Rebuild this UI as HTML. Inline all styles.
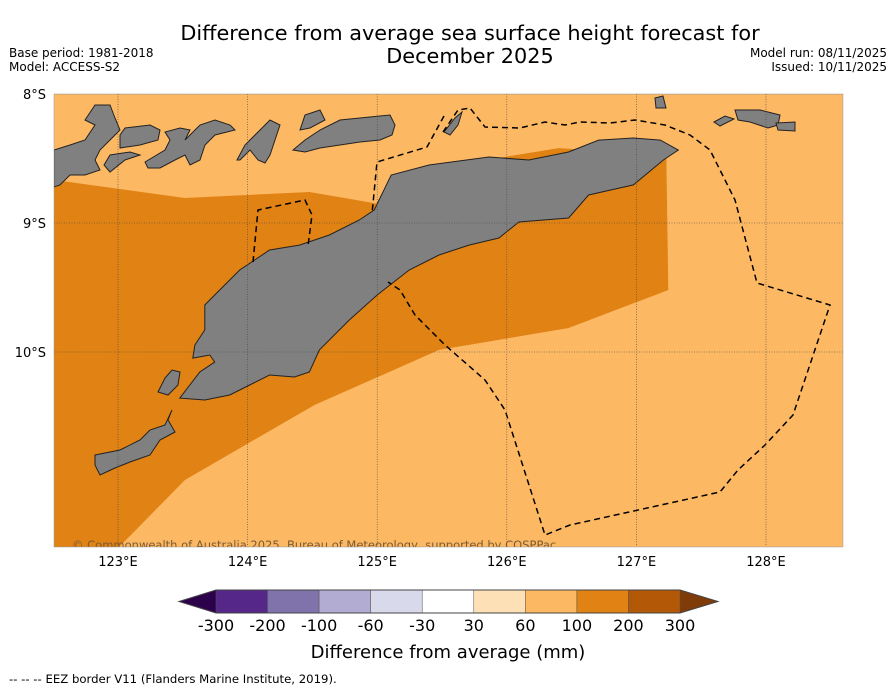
<!DOCTYPE html>
<html><head><meta charset="utf-8"><style>
body{margin:0;background:#fff;font-family:"DejaVu Sans","Liberation Sans",sans-serif}
svg{display:block}
</style></head><body>
<svg id="c" width="896" height="690" viewBox="0 0 896 690">
<text x="470" y="40" font-size="20.8" text-anchor="middle">Difference from average sea surface height forecast for</text>
<text x="470" y="63" font-size="20.8" text-anchor="middle">December 2025</text>
<text x="9" y="57" font-size="12">Base period: 1981-2018</text>
<text x="9" y="71" font-size="12">Model: ACCESS-S2</text>
<text x="887" y="57" font-size="12" text-anchor="end">Model run: 08/11/2025</text>
<text x="887" y="71" font-size="12" text-anchor="end">Issued: 10/11/2025</text>
<defs><clipPath id="mc"><rect x="54" y="94" width="789" height="453"/></clipPath></defs>
<g id="map" clip-path="url(#mc)">
<rect x="54" y="94" width="789" height="453" fill="#fdb863"/>
</g>
<g id="cb"></g>
<text x="448" y="658" font-size="18" text-anchor="middle">Difference from average (mm)</text>
<text x="9" y="683" font-size="11.7">--  --  -- EEZ border V11 (Flanders Marine Institute, 2019).</text>
</svg>
<script>
const lonTicks=[123,124,125,126,127,128];
const latTicks=[-8,-9,-10];
const cbBounds=[-300,-200,-100,-60,-30,30,60,100,200,300];
const cbColors=['#542788','#8073ac','#b2abd2','#d8daeb','#ffffff','#fee0b6','#fdb863','#e08214','#b35806'];
const darkRegion=[[122.508,-8.667],[123.516,-8.806],[124.477,-8.760],[125.016,-8.853],[125.131,-8.628],[126.4,-8.419],[127.231,-8.473],[127.246,-9.519],[126.477,-9.814],[125.477,-9.984],[124.516,-10.411],[123.516,-10.992],[123.0,-11.52],[122.4,-11.52]];
const timor=[[123.577,-10.047],[123.593,-9.946],[123.670,-9.829],[123.670,-9.636],[123.746,-9.558],[123.939,-9.364],[124.170,-9.209],[124.400,-9.171],[124.631,-9.093],[124.862,-8.977],[124.977,-8.899],[125.108,-8.628],[125.400,-8.550],[125.862,-8.488],[126.170,-8.512],[126.477,-8.450],[126.708,-8.357],[126.977,-8.341],[127.185,-8.357],[127.323,-8.434],[127.208,-8.512],[126.977,-8.705],[126.631,-8.783],[126.477,-8.961],[126.093,-8.992],[125.939,-9.116],[125.708,-9.171],[125.477,-9.248],[125.247,-9.364],[125.0,-9.558],[124.785,-9.752],[124.554,-9.984],[124.477,-10.155],[124.362,-10.194],[124.170,-10.178],[124.016,-10.256],[123.862,-10.333],[123.670,-10.372],[123.477,-10.357],[123.554,-10.256],[123.631,-10.155],[123.746,-10.078],[123.708,-10.023]];
const X=lon=>118+(lon-123)*129.6;
const Y=lat=>94+(-8-lat)*129;
const NS='http://www.w3.org/2000/svg';
function mk(tag,attrs,parent){const e=document.createElementNS(NS,tag);for(const k in attrs)e.setAttribute(k,attrs[k]);parent.appendChild(e);return e;}
const map=document.getElementById('map');
const svg=document.getElementById('c');
const pts=a=>a.map(p=>X(p[0]).toFixed(1)+','+Y(p[1]).toFixed(1)).join(' ');
let d=mk('polygon',{points:pts(darkRegion),fill:'#e08214'},map);


const islands=["54,150 70,145 85,140 95,125 85,120 95,105 110,105 115,118 120,130 110,140 100,150 95,160 100,170 85,175 70,175 60,185 54,187",
"120,135 125,128 150,125 160,130 158,140 140,145 120,148",
"104,165 110,155 130,152 140,155 125,160 110,172",
"145,162 165,150 170,140 165,132 180,128 190,130 185,140 200,125 215,120 230,125 235,130 215,135 205,145 200,160 190,165 185,155 175,160 160,168 148,168",
"237,160 245,145 250,140 260,130 270,120 280,125 275,140 270,155 265,163 258,160 250,150 240,160",
"293,150 305,140 320,130 340,120 370,117 390,115 395,125 392,135 380,140 360,142 340,145 320,148 305,152",
"300,130 305,115 320,110 325,120 310,128",
"95,455 120,450 140,440 150,430 165,425 172,410 168,420 175,432 160,440 150,455 130,462 115,468 100,475 95,465",
"158,392 165,378 172,370 180,372 178,385 168,395",
"735,110 760,110 780,115 778,125 768,128 750,122 738,120",
"776,123 795,122 795,131 778,130","714,122 725,116 734,119 720,126","655,98 663,96 666,108 656,108",
"444,132 455,118 462,112 458,125 450,135"];
islands.forEach(p=>{const e=mk('polygon',{points:p,fill:'#808080',stroke:'#222','stroke-width':1},map);

});
let t=mk('polygon',{points:pts(timor),fill:'#808080',stroke:'#222','stroke-width':1},map);


const eez=["444,116 427,147 377,162 372,214","253,262 258,210 305,200 312,215 308,246",
"443,132 458,110 470,108 485,127 520,128 545,122 565,125 580,122 610,123 635,120 665,125 690,135 710,150 735,200 757,283 830,305 793,415 765,445 738,470 720,492 570,525 545,535 505,410 485,380 445,345 415,315 400,290 388,282"];
eez.forEach(p=>{const e=mk('polyline',{points:p,fill:'none',stroke:'#000','stroke-width':1.5,'stroke-dasharray':'6,4'},map);

});
lonTicks.forEach(l=>{const x=X(l);
const g=mk('line',{x1:x,x2:x,y1:94,y2:547,stroke:'#444','stroke-width':0.6,'stroke-dasharray':'1,1.5'},map);


const tx=mk('text',{x:x,y:566,'font-size':13,'text-anchor':'middle'},svg);tx.textContent=l+'°E';

});
latTicks.forEach(l=>{const y=Y(l);
const g=mk('line',{x1:54,x2:843,y1:y,y2:y,stroke:'#444','stroke-width':0.6,'stroke-dasharray':'1,1.5'},map);


const tx=mk('text',{x:46,y:y+5,'font-size':13,'text-anchor':'end'},svg);tx.textContent=(-l)+'°S';

});
const cr=mk('text',{x:72,y:549,'font-size':11.5,fill:'#7a5a30'},map);cr.textContent='© Commonwealth of Australia 2025, Bureau of Meteorology, supported by COSPPac';


const cb=document.getElementById('cb');
const cx0=216,cw=(680-216)/cbColors.length,cy=590,ch=23;
let l=mk('polygon',{points:`${cx0},${cy} ${cx0},${cy+ch} 179,${cy+ch/2}`,fill:'#2d004b'},cb);


let r=mk('polygon',{points:`680,${cy} 680,${cy+ch} 718,${cy+ch/2}`,fill:'#7f3b08'},cb);


cbColors.forEach((c,i)=>{const e=mk('rect',{x:cx0+i*cw,y:cy,width:cw,height:ch,fill:c,stroke:'#555','stroke-width':0.5},cb);

});
mk('polygon',{points:`179,${cy+ch/2} ${cx0},${cy} 680,${cy} 718,${cy+ch/2} 680,${cy+ch} ${cx0},${cy+ch}`,fill:'none',stroke:'#444','stroke-width':1},cb);
cbBounds.forEach((b,i)=>{const tx=mk('text',{x:cx0+i*cw,y:631,'font-size':16,'text-anchor':'middle'},cb);tx.textContent=b;

});
mk('rect',{x:54,y:94,width:789,height:453,fill:'none',stroke:'#999','stroke-width':0.5},svg);
</script>
</body></html>
